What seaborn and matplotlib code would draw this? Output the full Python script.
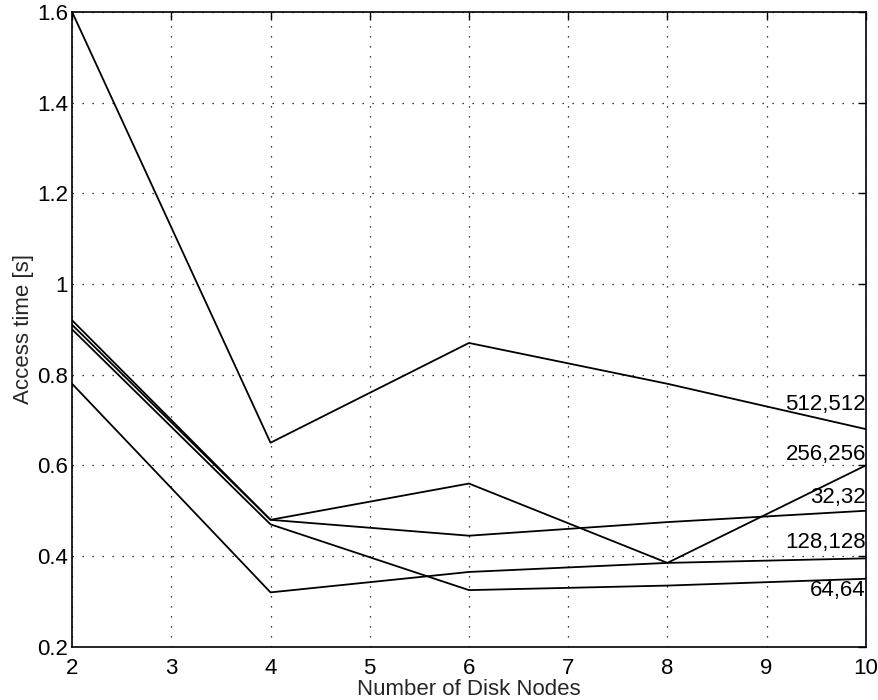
import pandas as pd
import matplotlib
matplotlib.use("Agg")
import matplotlib.pyplot as plt
import seaborn as sns

# Access time vs number of disk nodes, one curve per block configuration
disk_nodes = [2, 4, 6, 8, 10]
configs = ["512,512", "256,256", "32,32", "128,128", "64,64"]
access_512 = [1.60, 0.65, 0.87, 0.78, 0.68]
access_256 = [0.92, 0.48, 0.56, 0.385, 0.60]
access_32 = [0.91, 0.48, 0.445, 0.475, 0.50]
access_128 = [0.78, 0.32, 0.365, 0.385, 0.395]
access_64 = [0.90, 0.47, 0.325, 0.335, 0.35]
label_y = [0.735, 0.625, 0.53, 0.43, 0.325]

series = [access_512, access_256, access_32, access_128, access_64]

rows = []
for name, vals in zip(configs, series):
    for n, v in zip(disk_nodes, vals):
        rows.append({"nodes": n, "time": v, "config": name})
df = pd.DataFrame(rows)

sns.set_style("white")
plt.rcParams["font.family"] = ["Liberation Sans", "DejaVu Sans"]

fig = plt.figure(figsize=(8.79, 7.0), dpi=100)
ax = fig.add_axes([0.082, 0.076, 0.903, 0.907])

sns.lineplot(data=df, x="nodes", y="time", hue="config", hue_order=configs,
             palette=["black"] * len(configs), linewidth=1.3, legend=False, ax=ax)

for name, y in zip(configs, label_y):
    ax.text(10, y, name, ha="right", va="center", fontsize=16, color="black")

ax.set_xlim(2, 10)
ax.set_ylim(0.2, 1.6)
ax.set_xticks(range(2, 11))
ax.set_yticks([0.2, 0.4, 0.6, 0.8, 1.0, 1.2, 1.4, 1.6])
ax.set_yticklabels(["0.2", "0.4", "0.6", "0.8", "1", "1.2", "1.4", "1.6"])
ax.grid(True, color="black", linestyle=(0, (1, 7)), linewidth=0.9)
ax.tick_params(direction="in", top=True, right=True, length=6, width=1,
               labelsize=16, colors="black", pad=3)
ax.tick_params(axis="x", pad=8)
for s in ax.spines.values():
    s.set_visible(True)
    s.set_color("black")
    s.set_linewidth(1.2)

ax.set_xlabel("Number of Disk Nodes", fontsize=16, labelpad=0)
ax.set_ylabel("Access time [s]", fontsize=16, labelpad=2)

fig.savefig("out.png", dpi=100)
